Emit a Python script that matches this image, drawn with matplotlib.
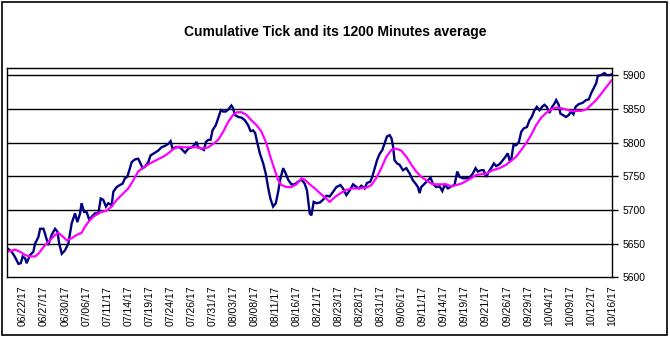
import matplotlib
matplotlib.use("Agg")
import matplotlib.pyplot as plt
from matplotlib.patches import Rectangle

# date labels along the category axis (one label per tick position 0..28)
date_labels = ["06/22/17", "06/27/17", "06/30/17", "07/06/17", "07/11/17", "07/14/17",
               "07/19/17", "07/24/17", "07/26/17", "07/31/17", "08/03/17", "08/08/17",
               "08/11/17", "08/16/17", "08/21/17", "08/23/17", "08/28/17", "08/31/17",
               "09/06/17", "09/11/17", "09/14/17", "09/19/17", "09/21/17", "09/26/17",
               "09/29/17", "10/04/17", "10/09/17", "10/12/17", "10/16/17"]

# cumulative tick (x in label units)
tick_x = [-0.74, -0.54, -0.38, -0.22, -0.11, -0.02, 0.10, 0.17, 0.33, 0.49, 0.57, 0.73,
          0.81, 0.97, 1.04, 1.20, 1.36, 1.52, 1.63, 1.72, 1.84, 1.99, 2.15, 2.31, 2.47,
          2.58, 2.71, 2.78, 2.90, 3.02, 3.15, 3.26, 3.42, 3.58, 3.69, 3.81, 3.94, 4.05,
          4.21, 4.29, 4.45, 4.60, 4.73, 4.84, 4.95, 5.05, 5.16, 5.32, 5.47, 5.55, 5.68,
          5.79, 5.95, 6.06, 6.22, 6.42, 6.58, 6.74, 6.90, 7.01, 7.10, 7.26, 7.45, 7.61,
          7.70, 7.85, 8.01, 8.16, 8.24, 8.32, 8.48, 8.59, 8.69, 8.80, 8.91, 9.00, 9.16,
          9.27, 9.40, 9.51, 9.63, 9.75, 9.90, 9.98, 10.06, 10.22, 10.38, 10.54, 10.69,
          10.81, 10.93, 11.03, 11.12, 11.25, 11.41, 11.53, 11.64, 11.75, 11.88, 12.01,
          12.12, 12.23, 12.36, 12.48, 12.61, 12.75, 12.91, 13.07, 13.23, 13.38, 13.49,
          13.62, 13.70, 13.81, 13.94, 14.10, 14.25, 14.41, 14.57, 14.73, 14.89, 15.08,
          15.20, 15.36, 15.52, 15.68, 15.84, 15.96, 16.07, 16.23, 16.34, 16.50, 16.59,
          16.71, 16.82, 16.94, 17.07, 17.18, 17.29, 17.42, 17.51, 17.58, 17.65, 17.77,
          17.89, 18.05, 18.21, 18.37, 18.52, 18.65, 18.76, 18.84, 18.92, 19.08, 19.24,
          19.36, 19.47, 19.63, 19.79, 19.92, 20.03, 20.19, 20.34, 20.50, 20.63, 20.74,
          20.90, 21.06, 21.21, 21.37, 21.50, 21.61, 21.77, 21.88, 22.01, 22.13, 22.24,
          22.37, 22.48, 22.64, 22.80, 22.92, 23.03, 23.11, 23.19, 23.30, 23.43, 23.56,
          23.67, 23.79, 23.94, 24.06, 24.17, 24.30, 24.41, 24.54, 24.66, 24.77, 24.88,
          25.01, 25.14, 25.25, 25.33, 25.45, 25.53, 25.64, 25.80, 25.93, 26.04, 26.15,
          26.25, 26.40, 26.59, 26.75, 26.88, 26.99, 27.10, 27.23, 27.31, 27.46, 27.62,
          27.75, 27.86, 27.95]
tick_y = [5643, 5638, 5630, 5620, 5621, 5631, 5628, 5621, 5633, 5638, 5650, 5660,
          5672, 5672, 5665, 5648, 5663, 5672, 5668, 5650, 5635, 5640, 5650, 5680, 5695,
          5682, 5695, 5710, 5697, 5697, 5685, 5690, 5695, 5695, 5717, 5715, 5705, 5710,
          5707, 5727, 5734, 5737, 5739, 5747, 5749, 5759, 5771, 5775, 5776, 5771, 5762,
          5764, 5771, 5781, 5784, 5788, 5793, 5795, 5798, 5802, 5791, 5793, 5793, 5788,
          5785, 5791, 5793, 5797, 5801, 5793, 5791, 5789, 5801, 5804, 5804, 5818, 5826,
          5836, 5848, 5846, 5846, 5849, 5855, 5851, 5841, 5838, 5837, 5833, 5826,
          5817, 5818, 5814, 5801, 5784, 5769, 5754, 5734, 5717, 5705, 5710,
          5727, 5747, 5762, 5754, 5744, 5738, 5738, 5742, 5745, 5739, 5729,
          5695, 5692, 5712, 5710, 5711, 5715, 5721, 5720, 5727, 5734, 5737,
          5732, 5722, 5729, 5738, 5734, 5732, 5736, 5732, 5740, 5742, 5749,
          5762, 5774, 5783, 5789, 5799, 5809, 5811, 5806, 5794, 5774, 5769,
          5767, 5759, 5762, 5754, 5744, 5739, 5734, 5725, 5734, 5739, 5744,
          5748, 5739, 5734, 5735, 5728, 5737, 5732, 5735, 5737, 5757, 5749,
          5747, 5747, 5748, 5754, 5762, 5757, 5759, 5759, 5749, 5757, 5762,
          5769, 5765, 5768, 5774, 5779, 5784, 5774, 5774, 5796, 5796, 5801,
          5816, 5821, 5823, 5833, 5838, 5848, 5853, 5848, 5853, 5856, 5853,
          5844, 5853, 5858, 5863, 5856, 5843, 5841, 5838, 5841, 5846, 5842,
          5853, 5857, 5859, 5863, 5864, 5873, 5880, 5888, 5899, 5900, 5903,
          5900, 5900, 5901]

# 1200 minutes average
avg_x = [-0.74, -0.38, -0.14, 0.10, 0.33, 0.57, 0.73, 0.97, 1.28, 1.52, 1.68, 1.84,
         2.07, 2.31, 2.55, 2.78, 2.94, 3.10, 3.34, 3.65, 3.97, 4.21, 4.45, 4.68, 5.00,
         5.24, 5.47, 5.71, 6.03, 6.34, 6.66, 6.90, 7.13, 7.37, 7.61, 7.93, 8.24, 8.56,
         8.80, 9.03, 9.27, 9.51, 9.75, 9.98, 10.17, 10.38, 10.62, 10.85, 11.09, 11.33,
         11.56, 11.75, 11.96, 12.12, 12.28, 12.51, 12.75, 12.99, 13.23, 13.38, 13.62,
         13.86, 14.10, 14.33, 14.57, 14.81, 15.04, 15.36, 15.68, 16.01, 16.31, 16.55,
         16.78, 17.02, 17.26, 17.50, 17.73, 17.97, 18.21, 18.45, 18.68, 18.92, 19.16,
         19.40, 19.63, 19.87, 20.11, 20.34, 20.58, 20.82, 21.06, 21.29, 21.53, 21.77,
         22.01, 22.32, 22.64, 22.95, 23.19, 23.43, 23.67, 23.90, 24.14, 24.38, 24.62,
         24.85, 25.09, 25.33, 25.57, 25.80, 26.04, 26.28, 26.51, 26.75, 26.99, 27.23,
         27.46, 27.70, 27.86, 27.95]
avg_y = [5638, 5641, 5638, 5633, 5631, 5631, 5635, 5645, 5655, 5663, 5666, 5662,
         5655, 5658, 5663, 5666, 5675, 5682, 5690, 5696, 5699, 5705, 5715, 5722, 5732,
         5744, 5757, 5763, 5769, 5774, 5779, 5784, 5790, 5794, 5793, 5793, 5793, 5791,
         5793, 5798, 5804, 5816, 5831, 5841, 5845, 5845, 5841, 5833, 5826, 5816,
         5799, 5779, 5759, 5744, 5737, 5734, 5734, 5738, 5747, 5745, 5738,
         5732, 5725, 5719, 5712, 5719, 5724, 5730, 5732, 5732, 5733, 5737,
         5747, 5762, 5779, 5789, 5791, 5788, 5779, 5767, 5757, 5749, 5744,
         5739, 5738, 5738, 5738, 5735, 5737, 5739, 5743, 5747, 5752, 5753,
         5754, 5759, 5762, 5767, 5773, 5779, 5789, 5799, 5811, 5826, 5837,
         5844, 5849, 5852, 5851, 5849, 5847, 5847, 5847, 5849, 5856, 5863,
         5872, 5882, 5888, 5892]

fig = plt.figure(figsize=(6.7, 3.37), dpi=100)
fig.patches.append(Rectangle((0.003, 0.006), 0.993, 0.988, transform=fig.transFigure,
                             fill=False, edgecolor="black", linewidth=1.2))
ax = fig.add_axes([0.011, 0.177, 0.903, 0.620])

ax.plot(tick_x, tick_y, color="#000080", linewidth=1.7, solid_joinstyle="miter")
ax.plot(avg_x, avg_y, color="#ff00ff", linewidth=1.6)

ax.set_xlim(-0.745, 27.97)
ax.set_ylim(5600, 5910)
ax.set_yticks(range(5600, 5901, 50))
for v in range(5650, 5901, 50):
    ax.axhline(v, color="black", linewidth=1, zorder=0)

ax.yaxis.tick_right()
ax.tick_params(axis="y", direction="out", length=4, width=1, labelsize=7.5, pad=3)
ax.set_xticks(range(len(date_labels)))
ax.set_xticklabels(date_labels, rotation=90, fontsize=7.5, family=["Liberation Sans", "DejaVu Sans"])
for lab in ax.get_yticklabels():
    lab.set_family(["Liberation Sans", "DejaVu Sans"])
ax.tick_params(axis="x", length=0, pad=6)
for s in ax.spines.values():
    s.set_linewidth(1)
    s.set_color("black")

fig.text(0.5, 0.905, "Cumulative Tick and its 1200 Minutes average", ha="center", va="center",
         fontsize=10, fontweight="bold", family=["Liberation Sans", "DejaVu Sans"])

fig.savefig("out.png", dpi=100)
